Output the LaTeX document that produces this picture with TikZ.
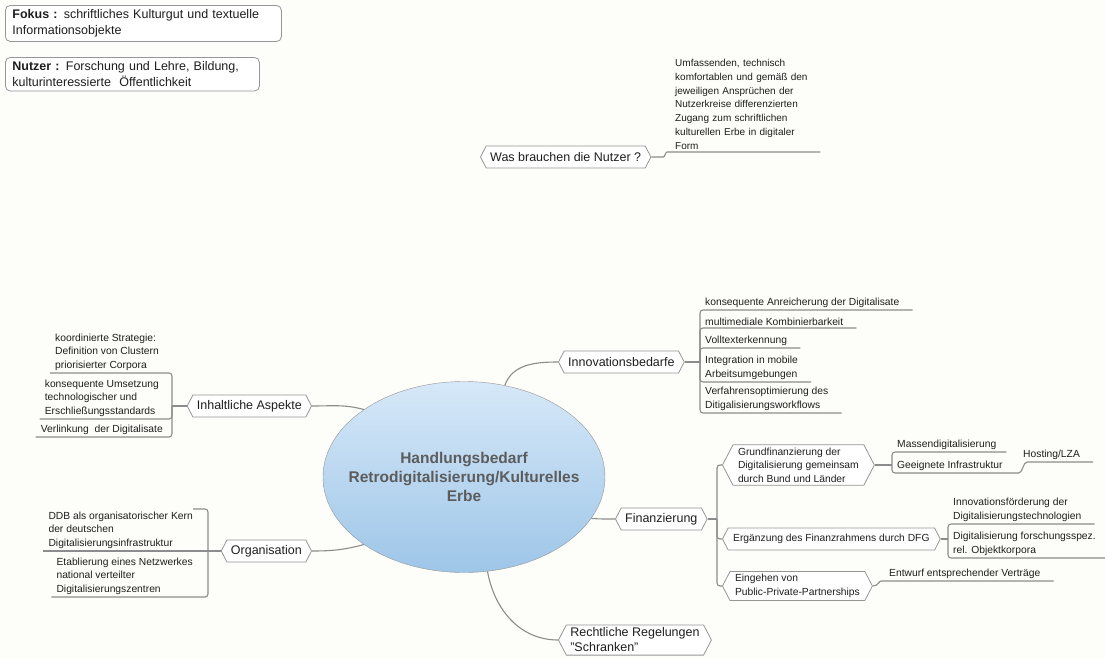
\documentclass[tikz,border=0pt]{standalone}
\usepackage{fontspec}
\setmainfont{Liberation Sans}
\usetikzlibrary{shapes.geometric,shapes.symbols}
\definecolor{bgcol}{RGB}{253,253,249}
\definecolor{lncol}{RGB}{140,140,140}
\definecolor{bdcol}{RGB}{150,150,150}
\definecolor{txcol}{RGB}{30,30,30}
\definecolor{hbtop}{RGB}{214,232,248}
\definecolor{hbbot}{RGB}{158,198,232}
\definecolor{hbtxt}{RGB}{92,92,92}
\tikzset{
  conn/.style={draw=lncol, line width=1.1pt, rounded corners=3pt},
  topic/.style={signal, signal to=east and west, signal pointer angle=125, draw=bdcol, fill=white, line width=0.8pt,
    font=\fontsize{12.5}{15}\selectfont, text=txcol, inner xsep=4pt, inner ysep=3pt, minimum height=22pt, align=left},
  subtopic/.style={topic, font=\fontsize{10.3}{13.5}\selectfont, inner xsep=5pt},
  leaf/.style={font=\fontsize{10.3}{13.5}\selectfont, text=txcol, align=left, inner xsep=5pt, inner ysep=2.5pt},
  note/.style={draw=bdcol, fill=white, line width=0.8pt, rounded corners=5pt, font=\fontsize{12.5}{15.5}\selectfont,
    text=txcol, align=left, inner xsep=7pt, inner ysep=4.5pt}
}
\begin{document}
\begin{tikzpicture}[x=1pt,y=-1pt]
\path[use as bounding box, fill=bgcol] (0,0) rectangle (1105,659);

\node[note, text width=262pt, anchor=north west] (fk) at (5,5) {\textbf{Fokus :} schriftliches Kulturgut und textuelle\\Informationsobjekte};
\node[note, text width=240pt, anchor=north west] (nu) at (5,57) {\textbf{Nutzer :} Forschung und Lehre, Bildung,\\kulturinteressierte\ \ Öffentlichkeit};

\node[topic, anchor=west] (wb) at (480,157) {Was brauchen die Nutzer ?};
\node[leaf, font=\fontsize{10}{13.8}\selectfont, text width=140pt, anchor=south west] (u1) at (670,152)
  {Umfassenden, technisch\\komfortablen und gemäß den\\jeweiligen Ansprüchen der\\Nutzerkreise differenzierten\\Zugang zum schriftlichen\\kulturellen Erbe in digitaler\\Form};
\draw[conn] (wb.east) -- ++(9,0) to[out=0,in=180] (u1.south west) -- (u1.south east);

\node[ellipse, draw=bdcol, top color=hbtop, middle color=hbbot, bottom color=hbbot, minimum width=282pt, minimum height=191pt,
  inner xsep=-40pt, inner ysep=0pt, font=\fontsize{15.5}{19}\selectfont\bfseries, text=hbtxt, align=center] (hb) at (464,477)
  {Handlungsbedarf\\Retrodigitalisierung/Kulturelles\\Erbe};

\node[topic, anchor=west] (inno) at (558,362) {Innovationsbedarfe};
\node[topic, anchor=east] (inh) at (312,406) {Inhaltliche Aspekte};
\node[topic, anchor=east] (org) at (312,551) {Organisation};
\node[topic, anchor=west] (fin) at (615,519) {Finanzierung};
\node[topic, anchor=west] (re) at (558,640) {Rechtliche Regelungen\\"Schranken"};

\draw[conn] (hb.66) to[out=70,in=180] (inno.west);
\draw[conn] (inh.east) to[out=0,in=165] (hb.146);
\draw[conn] (org.east) to[out=0,in=195] (hb.214);
\draw[conn] (hb.342) to[out=-5,in=180] (fin.west);
\draw[conn] (hb.284) to[out=-80,in=180] (re.west);

\coordinate (innoB) at (700,362);
\node[leaf, anchor=south west] (i1) at (700,310) {konsequente Anreicherung der Digitalisate};
\node[leaf, anchor=south west] (i2) at (700,328) {multimediale Kombinierbarkeit};
\node[leaf, anchor=south west] (i3) at (700,348) {Volltexterkennung};
\node[leaf, anchor=south west] (i4) at (700,382) {Integration in mobile\\Arbeitsumgebungen};
\node[leaf, anchor=south west] (i5) at (700,413) {Verfahrensoptimierung des\\Ditigalisierungsworkflows};
\draw[conn] (inno.east) -- (innoB);
\foreach \c in {i1,i2,i3,i4,i5}
  \draw[conn] (innoB) |- ([xshift=8pt]\c.south east);

\coordinate (inhB) at (172,406);
\node[leaf, anchor=south east] (h1) at (164,373) {koordinierte Strategie:\\Definition von Clustern\\priorisierter Corpora};
\node[leaf, anchor=south east] (h2) at (164,419) {konsequente Umsetzung\\technologischer und\\Erschließungsstandards};
\node[leaf, anchor=south east] (h3) at (168,437) {Verlinkung\ \ der Digitalisate};
\draw[conn] (inh.west) -- (inhB);
\foreach \c in {h1,h2,h3}
  \draw[conn] (inhB) |- (\c.south west);

\coordinate (orgB) at (208,551);
\node[leaf, anchor=south east] (o1) at (198,551) {DDB als organisatorischer Kern\\der deutschen\\Digitalisierungsinfrastruktur};
\node[leaf, anchor=south east] (o2) at (198,597) {Etablierung eines Netzwerkes\\national verteilter\\Digitalisierungszentren};
\draw[conn] (org.west) -- (orgB) -- (o1.south west);
\draw[conn] (orgB) |- (o2.south west);
\draw[conn] ([xshift=-5pt]o1.north east) -| (orgB);

\coordinate (finB) at (717,519);
\node[subtopic, anchor=west] (f1) at (722,465) {Grundfinanzierung der\\Digitalisierung gemeinsam\\durch Bund und Länder};
\node[subtopic, anchor=west] (f2) at (722,539) {Ergänzung des Finanzrahmens durch DFG};
\node[subtopic, anchor=west] (f3) at (722,586) {Eingehen von\\Public-Private-Partnerships};
\draw[conn] (fin.east) -- (finB);
\foreach \c in {f1,f2,f3}
  \draw[conn] (finB) |- (\c.west);

\coordinate (g1B) at (892,465);
\node[leaf, anchor=south west] (m1) at (892,452) {Massendigitalisierung};
\node[leaf, anchor=south west] (m2) at (892,473) {Geeignete Infrastruktur};
\node[leaf, anchor=south west] (hl) at (1018,462) {Hosting/LZA};
\draw[conn] (f1.east) -- (g1B);
\draw[conn] (g1B) |- ([xshift=5pt]m1.south east);
\draw[conn] (g1B) |- ([xshift=8pt]m2.south east) to[out=0,in=180] ([xshift=12pt]hl.south west) -- ([xshift=8pt]hl.south east);

\coordinate (f2B) at (948,539);
\node[leaf, anchor=south west] (n1) at (948,524) {Innovationsförderung der\\Digitalisierungstechnologien};
\node[leaf, anchor=south west] (n2) at (948,558) {Digitalisierung forschungsspez.\\rel. Objektkorpora};
\draw[conn] (f2.east) -- (f2B);
\foreach \c in {n1,n2}
  \draw[conn] (f2B) |- ([xshift=8pt]\c.south east);

\node[leaf, anchor=south west] (e1) at (884,581) {Entwurf entsprechender Verträge};
\draw[conn] (f3.east) to[out=0,in=180] (e1.south west) -- ([xshift=8pt]e1.south east);
\end{tikzpicture}
\end{document}
